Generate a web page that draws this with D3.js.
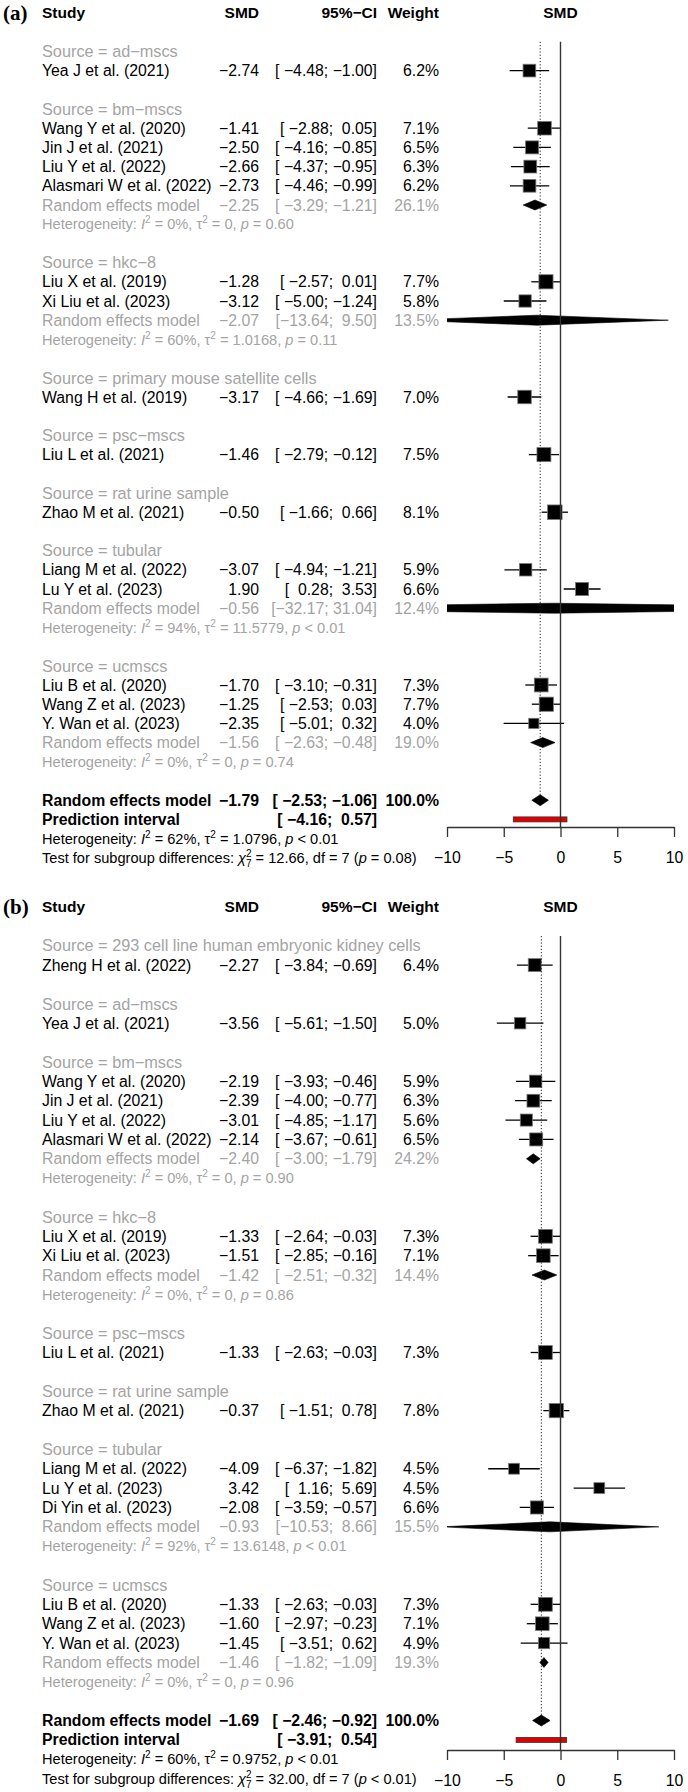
<!DOCTYPE html>
<html>
<head>
<meta charset="utf-8">
<script src="https://cdn.jsdelivr.net/npm/d3@7"></script>
<style>
  body { margin: 0; background: #fff; }
  svg text { font-family: "Liberation Sans", Arial, sans-serif; white-space: pre; }
</style>
</head>
<body>
<svg id="chart"></svg>
<script>
// ---------- panel (a) ----------
const groupsA = ['ad−mscs', 'bm−mscs', 'hkc−8', 'primary mouse satellite cells', 'psc−mscs', 'rat urine sample', 'tubular', 'ucmscs'];
const studiesA = ['Yea J et al. (2021)', 'Wang Y et al. (2020)', 'Jin J et al. (2021)', 'Liu Y et al. (2022)', 'Alasmari W et al. (2022)',
  'Liu X et al. (2019)', 'Xi Liu et al. (2023)', 'Wang H et al. (2019)', 'Liu L et al. (2021)', 'Zhao M et al. (2021)',
  'Liang M et al. (2022)', 'Lu Y et al. (2023)', 'Liu B et al. (2020)', 'Wang Z et al. (2023)', 'Y. Wan et al. (2023)'];
const groupOfA = [0, 1, 1, 1, 1, 2, 2, 3, 4, 5, 6, 6, 7, 7, 7];
const smdA = [-2.74, -1.41, -2.50, -2.66, -2.73, -1.28, -3.12, -3.17, -1.46, -0.50, -3.07, 1.90, -1.70, -1.25, -2.35];
const lowerA = [-4.48, -2.88, -4.16, -4.37, -4.46, -2.57, -5.00, -4.66, -2.79, -1.66, -4.94, 0.28, -3.10, -2.53, -5.01];
const upperA = [-1.00, 0.05, -0.85, -0.95, -0.99, 0.01, -1.24, -1.69, -0.12, 0.66, -1.21, 3.53, -0.31, 0.03, 0.32];
const weightA = [6.2, 7.1, 6.5, 6.3, 6.2, 7.7, 5.8, 7.0, 7.5, 8.1, 5.9, 6.6, 7.3, 7.7, 4.0];
const subSmdA = [null, -2.25, -2.07, null, null, null, -0.56, -1.56];
const subLowerA = [null, -3.29, -13.64, null, null, null, -32.17, -2.63];
const subUpperA = [null, -1.21, 9.50, null, null, null, 31.04, -0.48];
const subWeightA = [null, 26.1, 13.5, null, null, null, 12.4, 19.0];
const subI2A = [null, '0%', '60%', null, null, null, '94%', '0%'];
const subTau2A = [null, '0', '1.0168', null, null, null, '11.5779', '0'];
const subPA = [null, '= 0.60', '= 0.11', null, null, null, '< 0.01', '= 0.74'];
const overallA = [-1.79, -2.53, -1.06, 100.0];
const predA = [-4.16, 0.57];
const hetA = ['62%', '1.0796', '< 0.01'];
const testA = ['12.66', '7', '= 0.08'];

// ---------- panel (b) ----------
const groupsB = ['293 cell line human embryonic kidney cells', 'ad−mscs', 'bm−mscs', 'hkc−8', 'psc−mscs', 'rat urine sample', 'tubular', 'ucmscs'];
const studiesB = ['Zheng H et al. (2022)', 'Yea J et al. (2021)', 'Wang Y et al. (2020)', 'Jin J et al. (2021)', 'Liu Y et al. (2022)',
  'Alasmari W et al. (2022)', 'Liu X et al. (2019)', 'Xi Liu et al. (2023)', 'Liu L et al. (2021)', 'Zhao M et al. (2021)',
  'Liang M et al. (2022)', 'Lu Y et al. (2023)', 'Di Yin et al. (2023)', 'Liu B et al. (2020)', 'Wang Z et al. (2023)', 'Y. Wan et al. (2023)'];
const groupOfB = [0, 1, 2, 2, 2, 2, 3, 3, 4, 5, 6, 6, 6, 7, 7, 7];
const smdB = [-2.27, -3.56, -2.19, -2.39, -3.01, -2.14, -1.33, -1.51, -1.33, -0.37, -4.09, 3.42, -2.08, -1.33, -1.60, -1.45];
const lowerB = [-3.84, -5.61, -3.93, -4.00, -4.85, -3.67, -2.64, -2.85, -2.63, -1.51, -6.37, 1.16, -3.59, -2.63, -2.97, -3.51];
const upperB = [-0.69, -1.50, -0.46, -0.77, -1.17, -0.61, -0.03, -0.16, -0.03, 0.78, -1.82, 5.69, -0.57, -0.03, -0.23, 0.62];
const weightB = [6.4, 5.0, 5.9, 6.3, 5.6, 6.5, 7.3, 7.1, 7.3, 7.8, 4.5, 4.5, 6.6, 7.3, 7.1, 4.9];
const subSmdB = [null, null, -2.40, -1.42, null, null, -0.93, -1.46];
const subLowerB = [null, null, -3.00, -2.51, null, null, -10.53, -1.82];
const subUpperB = [null, null, -1.79, -0.32, null, null, 8.66, -1.09];
const subWeightB = [null, null, 24.2, 14.4, null, null, 15.5, 19.3];
const subI2B = [null, null, '0%', '0%', null, null, '92%', '0%'];
const subTau2B = [null, null, '0', '0', null, null, '13.6148', '0'];
const subPB = [null, null, '= 0.90', '= 0.86', null, null, '< 0.01', '= 0.96'];
const overallB = [-1.69, -2.46, -0.92, 100.0];
const predB = [-3.91, 0.54];
const hetB = ['60%', '0.9752', '< 0.01'];
const testB = ['32.00', '7', '< 0.01'];

const tickValues = [-10, -5, 0, 5, 10];

// ---------- drawing ----------
const GREY = '#a4a4a4';
const FS = 15.8, FS_SRC = 16.3, FS_HET = 14.6;
const COL_STUDY = 42, COL_SMD = 259, COL_CI = 377, COL_W = 439;

const svg = d3.select('#chart').attr('width', 688).attr('height', 1792);
const x = d3.scaleLinear().domain([-10, 10]).range([447, 674]);
const f2 = d3.format('.2f'), f1 = d3.format('.1f');

function pad(s, n) { return ' '.repeat(Math.max(0, n - s.length)) + s; }

// text with italic / super- / subscript pieces
function rich(t, parts) {
  let cur = 0;
  parts.forEach(p => {
    const off = p.off || 0;
    const ts = t.append('tspan').text(p.t).attr('dy', off - cur);
    cur = off;
    if (p.it) ts.attr('font-style', 'italic');
    if (p.small) ts.attr('font-size', 10);
    if (p.dx) ts.attr('dx', p.dx);
  });
}

function drawPanel(p) {
  const g = svg.append('g');
  const rowY = i => p.top + i * p.step;
  const txt = (xx, i, s, o = {}) => {
    const fs = o.fs || FS;
    return g.append('text')
      .attr('x', xx).attr('y', rowY(i) + fs * 0.35)
      .attr('font-size', fs)
      .attr('text-anchor', o.anchor || 'start')
      .attr('font-weight', o.bold ? 'bold' : null)
      .attr('fill', o.fill || '#000')
      .text(s);
  };

  // widths used for padding the CI column like R does
  const los = p.lower.concat(p.subLower.filter(v => v !== null), [p.overall[1], p.pred[0]]).map(f2);
  const his = p.upper.concat(p.subUpper.filter(v => v !== null), [p.overall[2], p.pred[1]]).map(f2);
  const wl = d3.max(los, s => s.length), wu = d3.max(his, s => s.length);
  const ci = (lo, hi) => `[${pad(f2(lo), wl)}; ${pad(f2(hi), wu)}]`;

  // header
  g.append('text').attr('x', 3).attr('y', rowY(0) + 7)
    .attr('font-family', '"Liberation Serif", "Times New Roman", serif')
    .style('font-family', '"Liberation Serif", "Times New Roman", serif')
    .attr('font-size', 21).attr('font-weight', 'bold').text(p.label);
  txt(COL_STUDY, 0, 'Study', {bold: true, fs: 15.5});
  txt(COL_SMD, 0, 'SMD', {bold: true, fs: 15.5, anchor: 'end'});
  txt(COL_CI, 0, '95%−CI', {bold: true, fs: 15.5, anchor: 'end'});
  txt(COL_W, 0, 'Weight', {bold: true, fs: 15.5, anchor: 'end'});
  txt(x(0), 0, 'SMD', {bold: true, fs: 15.5, anchor: 'middle'});

  // build the rows
  const studyRows = [], subRows = [];
  let i = 2;
  p.groups.forEach((grp, gi) => {
    txt(COL_STUDY, i, 'Source = ' + grp, {fill: GREY, fs: FS_SRC});
    i++;
    p.studies.forEach((s, si) => {
      if (p.groupOf[si] !== gi) return;
      studyRows.push({si, i});
      i++;
    });
    if (p.subSmd[gi] !== null) {
      subRows.push({gi, i});
      i += 2;
    }
    i++;
  });
  const iOverall = i;

  const clipId = 'clip' + p.label.replace(/\W/g, '');
  g.append('clipPath').attr('id', clipId)
    .append('rect').attr('x', x(-10)).attr('y', 0).attr('width', x(10) - x(-10)).attr('height', 1792);
  const plot = g.append('g').attr('clip-path', `url(#${clipId})`);

  // reference lines
  g.append('line')
    .attr('x1', x(0)).attr('x2', x(0))
    .attr('y1', rowY(1.5)).attr('y2', p.axisY)
    .attr('stroke', '#333').attr('stroke-width', 1.4);
  g.append('line')
    .attr('x1', x(p.overall[0])).attr('x2', x(p.overall[0]))
    .attr('y1', rowY(1.5)).attr('y2', rowY(iOverall) - 5.5)
    .attr('stroke', '#222').attr('stroke-width', 1).attr('stroke-dasharray', '1.2,2');

  // studies
  studyRows.forEach(({si, i}) => {
    txt(COL_STUDY, i, p.studies[si]);
    txt(COL_SMD, i, f2(p.smd[si]), {anchor: 'end'});
    txt(COL_CI, i, ci(p.lower[si], p.upper[si]), {anchor: 'end'});
    txt(COL_W, i, f1(p.weight[si]) + '%', {anchor: 'end'});
    const side = 5.1 * Math.sqrt(p.weight[si]);
    plot.append('line')
      .attr('x1', x(p.lower[si])).attr('x2', x(p.upper[si]))
      .attr('y1', rowY(i)).attr('y2', rowY(i))
      .attr('stroke', '#000').attr('stroke-width', 1.3);
    plot.append('rect')
      .attr('x', x(p.smd[si]) - side / 2).attr('y', rowY(i) - side / 2)
      .attr('width', side).attr('height', side)
      .attr('fill', '#000').attr('stroke', '#777').attr('stroke-width', 0.8);
  });

  const diamond = (est, lo, hi, yy, h) =>
    [[x(lo), yy], [x(est), yy - h], [x(hi), yy], [x(est), yy + h]].map(d => d.join(',')).join(' ');

  // subgroup summaries
  subRows.forEach(({gi, i}) => {
    txt(COL_STUDY, i, 'Random effects model', {fill: GREY});
    txt(COL_SMD, i, f2(p.subSmd[gi]), {anchor: 'end', fill: GREY});
    txt(COL_CI, i, ci(p.subLower[gi], p.subUpper[gi]), {anchor: 'end', fill: GREY});
    txt(COL_W, i, f1(p.subWeight[gi]) + '%', {anchor: 'end', fill: GREY});
    plot.append('polygon')
      .attr('points', diamond(p.subSmd[gi], p.subLower[gi], p.subUpper[gi], rowY(i), 5))
      .attr('fill', '#000').attr('stroke', '#000').attr('stroke-width', 0.6);
    const t = txt(COL_STUDY, i + 1, '', {fill: GREY, fs: FS_HET});
    rich(t, [
      {t: 'Heterogeneity: '}, {t: 'I', it: 1}, {t: '2', off: -6, small: 1},
      {t: ` = ${p.subI2[gi]}, τ`}, {t: '2', off: -6, small: 1},
      {t: ` = ${p.subTau2[gi]}, `}, {t: 'p', it: 1}, {t: ` ${p.subP[gi]}`}
    ]);
  });

  // overall
  txt(COL_STUDY, iOverall, 'Random effects model', {bold: true});
  txt(COL_SMD, iOverall, f2(p.overall[0]), {bold: true, anchor: 'end'});
  txt(COL_CI, iOverall, ci(p.overall[1], p.overall[2]), {bold: true, anchor: 'end'});
  txt(COL_W, iOverall, f1(p.overall[3]) + '%', {bold: true, anchor: 'end'});
  plot.append('polygon')
    .attr('points', diamond(p.overall[0], p.overall[1], p.overall[2], rowY(iOverall), 5.5))
    .attr('fill', '#000').attr('stroke', '#000').attr('stroke-width', 0.6);

  txt(COL_STUDY, iOverall + 1, 'Prediction interval', {bold: true});
  txt(COL_CI, iOverall + 1, ci(p.pred[0], p.pred[1]), {bold: true, anchor: 'end'});
  plot.append('rect')
    .attr('x', x(p.pred[0])).attr('y', rowY(iOverall + 1) - 2.5)
    .attr('width', x(p.pred[1]) - x(p.pred[0])).attr('height', 5)
    .attr('fill', '#e00000').attr('stroke', '#333').attr('stroke-width', 0.8);

  const th = txt(COL_STUDY, iOverall + 2, '', {fs: FS_HET});
  rich(th, [
    {t: 'Heterogeneity: '}, {t: 'I', it: 1}, {t: '2', off: -6, small: 1},
    {t: ` = ${p.het[0]}, τ`}, {t: '2', off: -6, small: 1},
    {t: ` = ${p.het[1]}, `}, {t: 'p', it: 1}, {t: ` ${p.het[2]}`}
  ]);
  const tt = txt(COL_STUDY, iOverall + 3, '', {fs: FS_HET});
  rich(tt, [
    {t: 'Test for subgroup differences: '}, {t: 'χ', it: 1},
    {t: '2', off: -6, small: 1}, {t: p.test[1], off: 4, small: 1, dx: -5.6},
    {t: ` = ${p.test[0]}, df = ${p.test[1]} (`}, {t: 'p', it: 1}, {t: ` ${p.test[2]})`}
  ]);

  // axis
  const axis = g.append('g')
    .attr('transform', `translate(0,${p.axisY})`)
    .call(d3.axisBottom(x).tickValues(tickValues).tickSize(10).tickSizeOuter(0).tickPadding(15));
  axis.attr('font-size', FS).attr('font-family', null);
  axis.selectAll('path, line').attr('stroke', '#333').attr('stroke-width', 1.3);
  axis.selectAll('text').attr('fill', '#000');
}

drawPanel({
  label: '(a)', top: 13, step: 19.2, axisY: 827,
  groups: groupsA, studies: studiesA, groupOf: groupOfA,
  smd: smdA, lower: lowerA, upper: upperA, weight: weightA,
  subSmd: subSmdA, subLower: subLowerA, subUpper: subUpperA, subWeight: subWeightA,
  subI2: subI2A, subTau2: subTau2A, subP: subPA,
  overall: overallA, pred: predA, het: hetA, test: testA
});

drawPanel({
  label: '(b)', top: 907, step: 19.37, axisY: 1750,
  groups: groupsB, studies: studiesB, groupOf: groupOfB,
  smd: smdB, lower: lowerB, upper: upperB, weight: weightB,
  subSmd: subSmdB, subLower: subLowerB, subUpper: subUpperB, subWeight: subWeightB,
  subI2: subI2B, subTau2: subTau2B, subP: subPB,
  overall: overallB, pred: predB, het: hetB, test: testB
});
</script>
</body>
</html>
